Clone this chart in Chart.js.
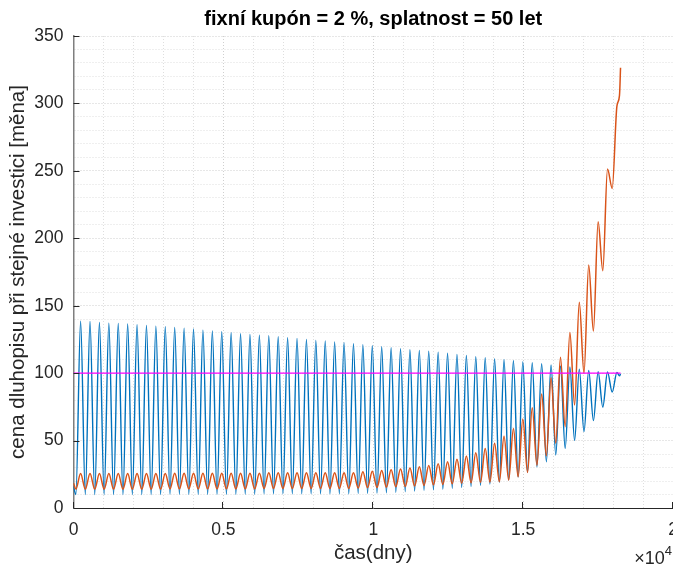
<!DOCTYPE html>
<html>
<head>
<meta charset="utf-8">
<script src="https://cdn.jsdelivr.net/npm/chart.js@4.4.1/dist/chart.umd.min.js"></script>
<style>
  html, body { margin: 0; padding: 0; background: #ffffff; }
</style>
</head>
<body>
<canvas id="bondChart" width="673" height="566"></canvas>
<script>
const TITLE = 'fixní kupón = 2 %, splatnost = 50 let';
const X_LABEL = 'čas(dny)';
const Y_LABEL = 'cena dluhopisu při stejné investici [měna]';

// tick labels (x in days, shown as multiples of 1e4)
const xTicks = [0, 5000, 10000, 15000, 20000];
const yTicks = [0, 50, 100, 150, 200, 250, 300, 350];

// day of each local maximum and of the minimum just before it
const peakDays = [237, 551, 865, 1179, 1493, 1807, 2120, 2434, 2748, 3062,
  3376, 3690, 4004, 4318, 4632, 4946, 5259, 5573, 5887, 6201,
  6515, 6829, 7143, 7457, 7771, 8085, 8398, 8712, 9026, 9340,
  9654, 9968, 10282, 10596, 10910, 11224, 11537, 11851, 12165, 12479,
  12793, 13107, 13421, 13735, 14049, 14363, 14676, 14990, 15304, 15618,
  15932, 16246, 16560, 16874, 17188, 17502, 17815, 18129];
const troughDays = [80, 394, 708, 1022, 1336, 1650, 1963, 2277, 2591, 2905,
  3219, 3533, 3847, 4161, 4475, 4789, 5102, 5416, 5730, 6044,
  6358, 6672, 6986, 7300, 7614, 7928, 8241, 8555, 8869, 9183,
  9497, 9811, 10125, 10439, 10753, 11067, 11380, 11694, 12008, 12322,
  12636, 12950, 13264, 13578, 13892, 14206, 14519, 14833, 15147, 15461,
  15775, 16089, 16403, 16717, 17031, 17345, 17658, 17972];
const tailDays = [18215, 18250];

// blue series
const blueStart = 16;
const bluePeaks = [138.6, 138.4, 137.6, 137.1, 136.9, 136.4, 135.9, 135.4, 134.9, 134.4,
  133.9, 133.4, 132.7, 131.9, 131.2, 130.7, 130.0, 129.2, 128.7, 128.2,
  127.7, 127.0, 126.2, 125.8, 125.0, 124.3, 123.8, 123.1, 122.5, 121.8,
  121.1, 120.3, 119.6, 118.8, 118.1, 117.3, 116.9, 116.2, 115.6, 114.7,
  113.9, 113.2, 112.2, 111.4, 110.7, 110.2, 109.4, 108.5, 107.7, 107.0,
  106.0, 105.3, 104.5, 103.0, 102.0, 101.0, 100.8, 100.5];
const blueTroughs = [10.0, 10.0, 10.0, 10.0, 10.0, 10.0, 10.0, 10.0, 10.0, 10.0,
  10.2, 10.2, 10.2, 10.2, 10.2, 10.2, 10.2, 10.2, 10.2, 10.2,
  10.5, 10.5, 10.5, 10.5, 10.5, 10.5, 10.5, 10.5, 10.5, 10.5,
  10.8, 10.9, 11.0, 11.3, 11.6, 12.1, 12.6, 13.1, 13.5, 14.0,
  14.6, 15.3, 16.0, 16.8, 17.8, 19.0, 20.8, 23.0, 26.4, 30.6,
  34.3, 39.3, 44.2, 50.0, 56.6, 64.8, 74.8, 86.0];
const blueTail = [98.0, 99.5];

// orange series
const orangeStart = 18.5;
const orangePeaks = [25.6, 25.6, 25.6, 25.6, 25.6, 25.6, 25.6, 25.6, 25.6, 25.6,
  25.8, 25.8, 25.8, 25.8, 25.8, 25.8, 25.8, 25.8, 25.8, 25.8,
  26.2, 26.2, 26.2, 26.2, 26.2, 26.2, 26.2, 26.2, 26.2, 26.2,
  26.9, 27.3, 27.8, 28.4, 29.0, 29.6, 30.5, 31.5, 32.8, 34.3,
  36.2, 38.5, 41.0, 44.2, 48.0, 53.2, 58.9, 66.0, 74.4, 84.5,
  96.6, 111.7, 130.2, 152.5, 180.1, 212.2, 251.3, 298.0];
const orangeTroughs = [14.0, 14.0, 14.0, 14.0, 14.0, 14.0, 14.0, 14.0, 14.0, 14.0,
  14.2, 14.2, 14.2, 14.2, 14.2, 14.2, 14.2, 14.2, 14.2, 14.2,
  14.5, 14.5, 14.5, 14.5, 14.5, 14.5, 14.5, 14.5, 14.5, 14.5,
  14.8, 15.0, 15.2, 15.4, 15.7, 16.0, 16.3, 16.7, 17.1, 17.5,
  17.9, 18.3, 18.7, 19.1, 19.3, 19.5, 20.8, 23.2, 26.4, 31.7,
  38.7, 48.0, 60.3, 76.4, 99.8, 131.2, 175.9, 237.0];
const orangeTail = [306.0, 326.5];

// reference level
const refDays = [0, 18250];
const refLevel = [100, 100];

const FONT = '"Liberation Sans", Arial, Helvetica, sans-serif';
const INK = '#262626';

function buildSeries(start, troughs, peaks, tail) {
  const pts = [{ x: 0, y: start }];
  peakDays.forEach((d, k) => {
    pts.push({ x: troughDays[k], y: troughs[k] });
    pts.push({ x: d, y: peaks[k] });
  });
  tailDays.forEach((d, i) => pts.push({ x: d, y: tail[i] }));
  return pts;
}

// inward tick marks and the x10^4 exponent, like the original figure
const axisExtras = {
  id: 'axisExtras',
  afterDraw(chart) {
    const { ctx, chartArea, scales: { x, y } } = chart;
    ctx.save();
    ctx.strokeStyle = INK;
    ctx.lineWidth = 1;
    ctx.beginPath();
    xTicks.forEach(v => {
      const px = Math.round(x.getPixelForValue(v)) - 0.5;
      ctx.moveTo(px, chartArea.bottom);
      ctx.lineTo(px, chartArea.bottom - 6);
    });
    yTicks.forEach(v => {
      const py = Math.round(y.getPixelForValue(v)) + 0.5;
      ctx.moveTo(chartArea.left, py);
      ctx.lineTo(chartArea.left + 6, py);
    });
    ctx.stroke();

    ctx.fillStyle = INK;
    ctx.textBaseline = 'alphabetic';
    ctx.textAlign = 'left';
    ctx.font = '18px ' + FONT;
    const base = 564;
    const mainW = ctx.measureText('\u00d710').width;
    ctx.font = '13px ' + FONT;
    const supW = ctx.measureText('4').width;
    const left = 672 - mainW - supW;
    ctx.font = '18px ' + FONT;
    ctx.fillText('\u00d710', left, base);
    ctx.font = '13px ' + FONT;
    ctx.fillText('4', left + mainW, base - 9);
    ctx.restore();
  }
};

const ctx = document.getElementById('bondChart').getContext('2d');

const chart = new Chart(ctx, {
  type: 'line',
  data: {
    datasets: [
      {
        label: 'ref',
        data: refDays.map((d, i) => ({ x: d, y: refLevel[i] })),
        borderColor: '#ff00ff',
        borderWidth: 1.2,
        pointRadius: 0,
        order: 0
      },
      {
        label: 'orange',
        data: buildSeries(orangeStart, orangeTroughs, orangePeaks, orangeTail),
        borderColor: '#d95319',
        borderWidth: 1.5,
        pointRadius: 0,
        cubicInterpolationMode: 'monotone',
        order: 1
      },
      {
        label: 'blue',
        data: buildSeries(blueStart, blueTroughs, bluePeaks, blueTail),
        borderColor: '#0072bd',
        borderWidth: 1.4,
        pointRadius: 0,
        cubicInterpolationMode: 'monotone',
        order: 2
      }
    ]
  },
  options: {
    responsive: false,
    devicePixelRatio: 1,
    animation: false,
    layout: { padding: 0 },
    plugins: {
      legend: { display: false },
      tooltip: { enabled: false },
      title: {
        display: true,
        text: TITLE,
        fullSize: false,
        color: '#000000',
        font: { family: FONT, size: 20, weight: 'bold', lineHeight: 1.2 },
        padding: { top: 7, bottom: 5 }
      }
    },
    scales: {
      x: {
        type: 'linear',
        min: 0,
        max: 20000,
        grid: {
          color: ctx => (ctx.tick && ctx.tick.value % 5000 === 0 ? '#cfcfcf' : '#dedede'),
          lineWidth: 1,
          drawTicks: false
        },
        border: { display: true, color: INK, width: 1, dash: [1, 2] },
        ticks: {
          stepSize: 1000,
          maxTicksLimit: 100,
          autoSkip: false,
          maxRotation: 0,
          padding: 12,
          color: INK,
          font: { family: FONT, size: 17.5 },
          callback: v => (v % 5000 === 0 ? String(v / 10000) : '')
        },
        title: {
          display: true,
          text: X_LABEL,
          color: INK,
          font: { family: FONT, size: 20.5, lineHeight: 1.2 },
          padding: { top: 0, bottom: 0 }
        },
        afterFit(scale) {
          scale.height = 58;
          scale.paddingRight = 0;
          scale.paddingLeft = 0;
        }
      },
      y: {
        type: 'linear',
        min: 0,
        max: 350,
        grid: {
          color: ctx => (ctx.tick && ctx.tick.value % 50 === 0 ? '#cfcfcf' : '#dedede'),
          lineWidth: 1,
          drawTicks: false
        },
        border: { display: true, color: '#7f7f7f', width: 1.5, dash: [1, 2] },
        ticks: {
          stepSize: 10,
          maxTicksLimit: 100,
          autoSkip: false,
          padding: 10,
          color: INK,
          font: { family: FONT, size: 17.5 },
          callback: v => (v % 50 === 0 ? String(v) : '')
        },
        title: {
          display: true,
          text: Y_LABEL,
          color: INK,
          font: { family: FONT, size: 20.5, lineHeight: 1.2 },
          padding: { top: 6, bottom: 0 }
        },
        afterFit(scale) {
          scale.width = 73.5;
          scale.paddingTop = 0;
          scale.paddingBottom = 0;
        }
      }
    }
  },
  plugins: [axisExtras]
});
</script>
</body>
</html>
